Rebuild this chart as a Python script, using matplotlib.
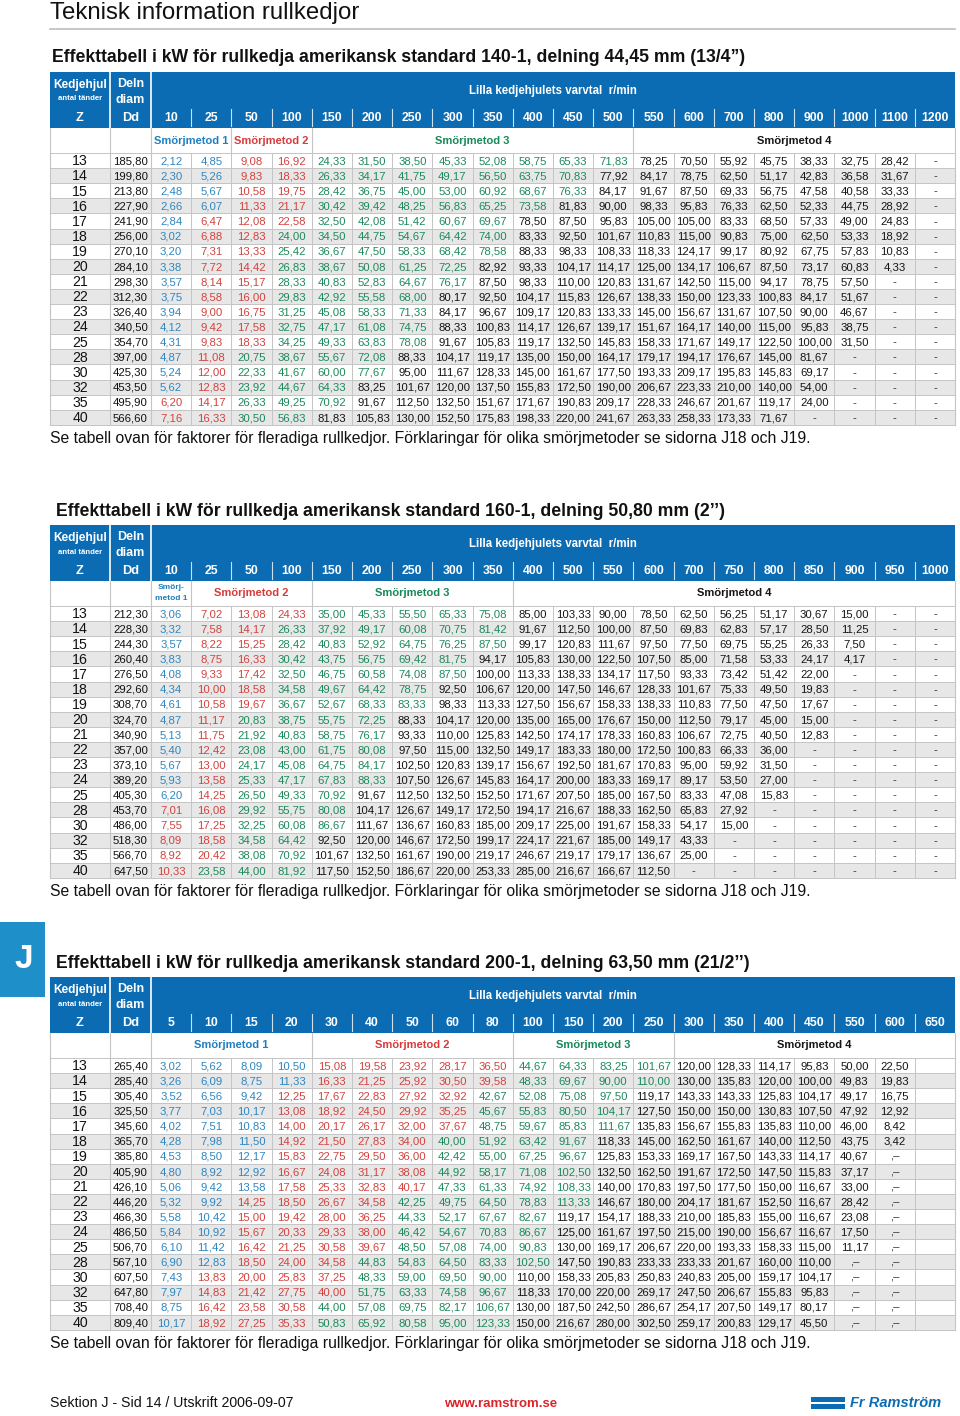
import matplotlib
matplotlib.use('Agg')
import matplotlib.pyplot as plt
from matplotlib.patches import Rectangle
from matplotlib import font_manager

plt.rcParams['font.family'] = ['Liberation Sans', 'DejaVu Sans']

_names = {f.name for f in font_manager.fontManager.ttflist}
NARROW = ['Liberation Sans Narrow', 'Liberation Sans'] if 'Liberation Sans Narrow' in _names else ['Liberation Sans']

# ---------------- DATA ----------------
PAGE_TITLE = "Teknisk information rullkedjor"
FOOTNOTE = ("Se tabell ovan för faktorer för fleradiga rullkedjor. "
            "Förklaringar för olika smörjmetoder se sidorna J18 och J19.")
HEAD_RPM = "Lilla kedjehjulets varvtal  r/min"

Z = [13, 14, 15, 16, 17, 18, 19, 20, 21, 22, 23, 24, 25, 28, 30, 32, 35, 40]

# ---- Table 1 : 140-1 ----
T1_TITLE = "Effekttabell i kW för rullkedja amerikansk standard 140-1, delning 44,45 mm (13/4”)"
T1_COLS = [10, 25, 50, 100, 150, 200, 250, 300, 350, 400, 450, 500, 550, 600, 700, 800, 900, 1000, 1100, 1200]
T1_DD = [185.80, 199.80, 213.80, 227.90, 241.90, 256.00, 270.10, 284.10, 298.30, 312.30,
         326.40, 340.50, 354.70, 397.00, 425.30, 453.50, 495.90, 566.60]
T1_ROWS = [
    [2.12, 4.85, 9.08, 16.92, 24.33, 31.50, 38.50, 45.33, 52.08, 58.75, 65.33, 71.83, 78.25, 70.50, 55.92, 45.75, 38.33, 32.75, 28.42, None],
    [2.30, 5.26, 9.83, 18.33, 26.33, 34.17, 41.75, 49.17, 56.50, 63.75, 70.83, 77.92, 84.17, 78.75, 62.50, 51.17, 42.83, 36.58, 31.67, None],
    [2.48, 5.67, 10.58, 19.75, 28.42, 36.75, 45.00, 53.00, 60.92, 68.67, 76.33, 84.17, 91.67, 87.50, 69.33, 56.75, 47.58, 40.58, 33.33, None],
    [2.66, 6.07, 11.33, 21.17, 30.42, 39.42, 48.25, 56.83, 65.25, 73.58, 81.83, 90.00, 98.33, 95.83, 76.33, 62.50, 52.33, 44.75, 28.92, None],
    [2.84, 6.47, 12.08, 22.58, 32.50, 42.08, 51.42, 60.67, 69.67, 78.50, 87.50, 95.83, 105.00, 105.00, 83.33, 68.50, 57.33, 49.00, 24.83, None],
    [3.02, 6.88, 12.83, 24.00, 34.50, 44.75, 54.67, 64.42, 74.00, 83.33, 92.50, 101.67, 110.83, 115.00, 90.83, 75.00, 62.50, 53.33, 18.92, None],
    [3.20, 7.31, 13.33, 25.42, 36.67, 47.50, 58.33, 68.42, 78.58, 88.33, 98.33, 108.33, 118.33, 124.17, 99.17, 80.92, 67.75, 57.83, 10.83, None],
    [3.38, 7.72, 14.42, 26.83, 38.67, 50.08, 61.25, 72.25, 82.92, 93.33, 104.17, 114.17, 125.00, 134.17, 106.67, 87.50, 73.17, 60.83, 4.33, None],
    [3.57, 8.14, 15.17, 28.33, 40.83, 52.83, 64.67, 76.17, 87.50, 98.33, 110.00, 120.83, 131.67, 142.50, 115.00, 94.17, 78.75, 57.50, None, None],
    [3.75, 8.58, 16.00, 29.83, 42.92, 55.58, 68.00, 80.17, 92.50, 104.17, 115.83, 126.67, 138.33, 150.00, 123.33, 100.83, 84.17, 51.67, None, None],
    [3.94, 9.00, 16.75, 31.25, 45.08, 58.33, 71.33, 84.17, 96.67, 109.17, 120.83, 133.33, 145.00, 156.67, 131.67, 107.50, 90.00, 46.67, None, None],
    [4.12, 9.42, 17.58, 32.75, 47.17, 61.08, 74.75, 88.33, 100.83, 114.17, 126.67, 139.17, 151.67, 164.17, 140.00, 115.00, 95.83, 38.75, None, None],
    [4.31, 9.83, 18.33, 34.25, 49.33, 63.83, 78.08, 91.67, 105.83, 119.17, 132.50, 145.83, 158.33, 171.67, 149.17, 122.50, 100.00, 31.50, None, None],
    [4.87, 11.08, 20.75, 38.67, 55.67, 72.08, 88.33, 104.17, 119.17, 135.00, 150.00, 164.17, 179.17, 194.17, 176.67, 145.00, 81.67, None, None, None],
    [5.24, 12.00, 22.33, 41.67, 60.00, 77.67, 95.00, 111.67, 128.33, 145.00, 161.67, 177.50, 193.33, 209.17, 195.83, 145.83, 69.17, None, None, None],
    [5.62, 12.83, 23.92, 44.67, 64.33, 83.25, 101.67, 120.00, 137.50, 155.83, 172.50, 190.00, 206.67, 223.33, 210.00, 140.00, 54.00, None, None, None],
    [6.20, 14.17, 26.33, 49.25, 70.92, 91.67, 112.50, 132.50, 151.67, 171.67, 190.83, 209.17, 228.33, 246.67, 201.67, 119.17, 24.00, None, None, None],
    [7.16, 16.33, 30.50, 56.83, 81.83, 105.83, 130.00, 152.50, 175.83, 198.33, 220.00, 241.67, 263.33, 258.33, 173.33, 71.67, None, None, None, None],
]
# number of cells per row drawn in lubrication method 1 / 2 / 3 colour (rest method 4)
T1_M1 = [2, 2, 2, 2, 1, 1, 1, 1, 1, 1, 1, 1, 1, 1, 1, 1, 0, 0]
T1_M2 = [2, 2, 2, 2, 3, 2, 2, 2, 2, 2, 2, 2, 2, 1, 1, 1, 2, 2]
T1_M3 = [8, 7, 7, 6, 5, 6, 6, 5, 5, 4, 4, 4, 4, 4, 4, 3, 3, 2]
# method label spans (first col, last col)
T1_SPANS = [(0, 1), (2, 3), (4, 11), (12, 19)]

# ---- Table 2 : 160-1 ----
T2_TITLE = "Effekttabell i kW för rullkedja amerikansk standard 160-1, delning 50,80 mm (2’’)"
T2_COLS = [10, 25, 50, 100, 150, 200, 250, 300, 350, 400, 500, 550, 600, 700, 750, 800, 850, 900, 950, 1000]
T2_DD = [212.30, 228.30, 244.30, 260.40, 276.50, 292.60, 308.70, 324.70, 340.90, 357.00,
         373.10, 389.20, 405.30, 453.70, 486.00, 518.30, 566.70, 647.50]
T2_ROWS = [
    [3.06, 7.02, 13.08, 24.33, 35.00, 45.33, 55.50, 65.33, 75.08, 85.00, 103.33, 90.00, 78.50, 62.50, 56.25, 51.17, 30.67, 15.00, None, None],
    [3.32, 7.58, 14.17, 26.33, 37.92, 49.17, 60.08, 70.75, 81.42, 91.67, 112.50, 100.00, 87.50, 69.83, 62.83, 57.17, 28.50, 11.25, None, None],
    [3.57, 8.22, 15.25, 28.42, 40.83, 52.92, 64.75, 76.25, 87.50, 99.17, 120.83, 111.67, 97.50, 77.50, 69.75, 55.25, 26.33, 7.50, None, None],
    [3.83, 8.75, 16.33, 30.42, 43.75, 56.75, 69.42, 81.75, 94.17, 105.83, 130.00, 122.50, 107.50, 85.00, 71.58, 53.33, 24.17, 4.17, None, None],
    [4.08, 9.33, 17.42, 32.50, 46.75, 60.58, 74.08, 87.50, 100.00, 113.33, 138.33, 134.17, 117.50, 93.33, 73.42, 51.42, 22.00, None, None, None],
    [4.34, 10.00, 18.58, 34.58, 49.67, 64.42, 78.75, 92.50, 106.67, 120.00, 147.50, 146.67, 128.33, 101.67, 75.33, 49.50, 19.83, None, None, None],
    [4.61, 10.58, 19.67, 36.67, 52.67, 68.33, 83.33, 98.33, 113.33, 127.50, 156.67, 158.33, 138.33, 110.83, 77.50, 47.50, 17.67, None, None, None],
    [4.87, 11.17, 20.83, 38.75, 55.75, 72.25, 88.33, 104.17, 120.00, 135.00, 165.00, 176.67, 150.00, 112.50, 79.17, 45.00, 15.00, None, None, None],
    [5.13, 11.75, 21.92, 40.83, 58.75, 76.17, 93.33, 110.00, 125.83, 142.50, 174.17, 178.33, 160.83, 106.67, 72.75, 40.50, 12.83, None, None, None],
    [5.40, 12.42, 23.08, 43.00, 61.75, 80.08, 97.50, 115.00, 132.50, 149.17, 183.33, 180.00, 172.50, 100.83, 66.33, 36.00, None, None, None, None],
    [5.67, 13.00, 24.17, 45.08, 64.75, 84.17, 102.50, 120.83, 139.17, 156.67, 192.50, 181.67, 170.83, 95.00, 59.92, 31.50, None, None, None, None],
    [5.93, 13.58, 25.33, 47.17, 67.83, 88.33, 107.50, 126.67, 145.83, 164.17, 200.00, 183.33, 169.17, 89.17, 53.50, 27.00, None, None, None, None],
    [6.20, 14.25, 26.50, 49.33, 70.92, 91.67, 112.50, 132.50, 152.50, 171.67, 207.50, 185.00, 167.50, 83.33, 47.08, 15.83, None, None, None, None],
    [7.01, 16.08, 29.92, 55.75, 80.08, 104.17, 126.67, 149.17, 172.50, 194.17, 216.67, 188.33, 162.50, 65.83, 27.92, None, None, None, None, None],
    [7.55, 17.25, 32.25, 60.08, 86.67, 111.67, 136.67, 160.83, 185.00, 209.17, 225.00, 191.67, 158.33, 54.17, 15.00, None, None, None, None, None],
    [8.09, 18.58, 34.58, 64.42, 92.50, 120.00, 146.67, 172.50, 199.17, 224.17, 221.67, 185.00, 149.17, 43.33, None, None, None, None, None, None],
    [8.92, 20.42, 38.08, 70.92, 101.67, 132.50, 161.67, 190.00, 219.17, 246.67, 219.17, 179.17, 136.67, 25.00, None, None, None, None, None, None],
    [10.33, 23.58, 44.00, 81.92, 117.50, 152.50, 186.67, 220.00, 253.33, 285.00, 216.67, 166.67, 112.50, None, None, None, None, None, None, None],
]
T2_M1 = [1, 1, 1, 1, 1, 1, 1, 1, 1, 1, 1, 1, 1, 0, 0, 0, 0, 0]
T2_M2 = [3, 2, 2, 2, 2, 2, 2, 1, 1, 1, 1, 1, 1, 2, 2, 2, 2, 1]
T2_M3 = [5, 6, 6, 5, 5, 4, 4, 4, 4, 4, 4, 4, 3, 3, 3, 2, 2, 3]
T2_SPANS = [(0, 0), (1, 3), (4, 8), (9, 19)]

# ---- Table 3 : 200-1 ----
T3_TITLE = "Effekttabell i kW för rullkedja amerikansk standard 200-1, delning 63,50 mm (21/2’’)"
T3_COLS = [5, 10, 15, 20, 30, 40, 50, 60, 80, 100, 150, 200, 250, 300, 350, 400, 450, 550, 600, 650]
T3_DD = [265.40, 285.40, 305.40, 325.50, 345.60, 365.70, 385.80, 405.90, 426.10, 446.20,
         466.30, 486.50, 506.70, 567.10, 607.50, 647.80, 708.40, 809.40]
T3_ROWS = [
    [3.02, 5.62, 8.09, 10.50, 15.08, 19.58, 23.92, 28.17, 36.50, 44.67, 64.33, 83.25, 101.67, 120.00, 128.33, 114.17, 95.83, 50.00, 22.50],
    [3.26, 6.09, 8.75, 11.33, 16.33, 21.25, 25.92, 30.50, 39.58, 48.33, 69.67, 90.00, 110.00, 130.00, 135.83, 120.00, 100.00, 49.83, 19.83],
    [3.52, 6.56, 9.42, 12.25, 17.67, 22.83, 27.92, 32.92, 42.67, 52.08, 75.08, 97.50, 119.17, 143.33, 143.33, 125.83, 104.17, 49.17, 16.75],
    [3.77, 7.03, 10.17, 13.08, 18.92, 24.50, 29.92, 35.25, 45.67, 55.83, 80.50, 104.17, 127.50, 150.00, 150.00, 130.83, 107.50, 47.92, 12.92],
    [4.02, 7.51, 10.83, 14.00, 20.17, 26.17, 32.00, 37.67, 48.75, 59.67, 85.83, 111.67, 135.83, 156.67, 155.83, 135.83, 110.00, 46.00, 8.42],
    [4.28, 7.98, 11.50, 14.92, 21.50, 27.83, 34.00, 40.00, 51.92, 63.42, 91.67, 118.33, 145.00, 162.50, 161.67, 140.00, 112.50, 43.75, 3.42],
    [4.53, 8.50, 12.17, 15.83, 22.75, 29.50, 36.00, 42.42, 55.00, 67.25, 96.67, 125.83, 153.33, 169.17, 167.50, 143.33, 114.17, 40.67, None],
    [4.80, 8.92, 12.92, 16.67, 24.08, 31.17, 38.08, 44.92, 58.17, 71.08, 102.50, 132.50, 162.50, 191.67, 172.50, 147.50, 115.83, 37.17, None],
    [5.06, 9.42, 13.58, 17.58, 25.33, 32.83, 40.17, 47.33, 61.33, 74.92, 108.33, 140.00, 170.83, 197.50, 177.50, 150.00, 116.67, 33.00, None],
    [5.32, 9.92, 14.25, 18.50, 26.67, 34.58, 42.25, 49.75, 64.50, 78.83, 113.33, 146.67, 180.00, 204.17, 181.67, 152.50, 116.67, 28.42, None],
    [5.58, 10.42, 15.00, 19.42, 28.00, 36.25, 44.33, 52.17, 67.67, 82.67, 119.17, 154.17, 188.33, 210.00, 185.83, 155.00, 116.67, 23.08, None],
    [5.84, 10.92, 15.67, 20.33, 29.33, 38.00, 46.42, 54.67, 70.83, 86.67, 125.00, 161.67, 197.50, 215.00, 190.00, 156.67, 116.67, 17.50, None],
    [6.10, 11.42, 16.42, 21.25, 30.58, 39.67, 48.50, 57.08, 74.00, 90.83, 130.00, 169.17, 206.67, 220.00, 193.33, 158.33, 115.00, 11.17, None],
    [6.90, 12.83, 18.50, 24.00, 34.58, 44.83, 54.83, 64.50, 83.33, 102.50, 147.50, 190.83, 233.33, 233.33, 201.67, 160.00, 110.00, None, None],
    [7.43, 13.83, 20.00, 25.83, 37.25, 48.33, 59.00, 69.50, 90.00, 110.00, 158.33, 205.83, 250.83, 240.83, 205.00, 159.17, 104.17, None, None],
    [7.97, 14.83, 21.42, 27.75, 40.00, 51.75, 63.33, 74.58, 96.67, 118.33, 170.00, 220.00, 269.17, 247.50, 206.67, 155.83, 95.83, None, None],
    [8.75, 16.42, 23.58, 30.58, 44.00, 57.08, 69.75, 82.17, 106.67, 130.00, 187.50, 242.50, 286.67, 254.17, 207.50, 149.17, 80.17, None, None],
    [10.17, 18.92, 27.25, 35.33, 50.83, 65.92, 80.58, 95.00, 123.33, 150.00, 216.67, 280.00, 302.50, 259.17, 200.83, 129.17, 45.50, None, None],
]
T3_M1 = [4, 4, 3, 3, 3, 3, 3, 3, 3, 2, 2, 2, 2, 2, 1, 1, 1, 1]
T3_M2 = [5, 5, 5, 5, 5, 4, 4, 4, 4, 4, 4, 4, 4, 3, 4, 4, 3, 3]
T3_M3 = [4, 4, 4, 4, 4, 4, 4, 4, 4, 5, 4, 4, 4, 5, 4, 4, 5, 5]
T3_SPANS = [(0, 3), (4, 8), (9, 12), (13, 19)]

METHOD_LABELS = ["Smörjmetod 1", "Smörjmetod 2", "Smörjmetod 3", "Smörjmetod 4"]

# ---------------- STYLE ----------------
HEAD_BLUE = "#0b6cb4"
TAB_BLUE = "#1f8fca"
TXT_COLORS = ["#2f86c0", "#d2433f", "#1d8a5c", "#151515"]
LBL_COLORS = ["#1f7ec0", "#d63b3b", "#17885a", "#151515"]
GRID = "#c4c4c4"
STRIPE = "#e7e7e7"

W, H = 960, 1416
fig = plt.figure(figsize=(W / 100, H / 100), dpi=100)
ax = fig.add_axes([0, 0, 1, 1])
ax.set_xlim(0, W)
ax.set_ylim(H, 0)
ax.axis('off')

X0, XZ, XD, X1 = 50, 110, 151, 955
HEAD_H, METH_H, RH = 56, 25, 15.1
DATA_FS = 9.0 if len(NARROW) > 1 else 8.2


def fmt(v):
    return f"{v:.2f}".replace('.', ',')


def draw_table(T, title, title_x, cols, dd, rows, m1, m2, m3, spans, dash, small_m1=False):
    ncol = len(cols)
    cw = (X1 - XD) / ncol
    ax.text(title_x, T - 14, title, fontsize=12.7, fontweight='bold', va='center', ha='left', color='#111111')
    # header block
    ax.add_patch(Rectangle((X0, T), X1 - X0, HEAD_H, facecolor=HEAD_BLUE, lw=0, zorder=1))
    for xx in (XZ, XD):
        ax.plot([xx, xx], [T, T + HEAD_H], color='white', lw=1.2, zorder=2)
    for k in range(1, ncol):
        xx = XD + k * cw
        ax.plot([xx, xx], [T + 37, T + 54], color='white', lw=0.8, alpha=0.8, zorder=2)
    ax.text((X0 + XZ) / 2, T + 13, "Kedjehjul", color='white', fontsize=8.6, fontweight='bold', ha='center', va='center')
    ax.text((X0 + XZ) / 2, T + 27, "antal tänder", color='white', fontsize=5.6, fontweight='bold', ha='center', va='center')
    ax.text((XZ + XD) / 2, T + 12, "Deln", color='white', fontsize=9.0, fontweight='bold', ha='center', va='center')
    ax.text((XZ + XD) / 2, T + 28, "diam", color='white', fontsize=9.0, fontweight='bold', ha='center', va='center')
    ax.text((X0 + XZ) / 2, T + 46, "Z", color='white', fontsize=9.2, fontweight='bold', ha='center', va='center')
    ax.text((XZ + XD) / 2, T + 46, "Dd", color='white', fontsize=9.2, fontweight='bold', ha='center', va='center')
    ax.text((XD + X1) / 2, T + 19, HEAD_RPM, color='white', fontsize=8.3, fontweight='bold', ha='center', va='center')
    for k, c in enumerate(cols):
        ax.text(XD + (k + 0.5) * cw, T + 46, str(c), color='white', fontsize=8.8, fontweight='bold',
                ha='center', va='center')
    # method row
    my = T + HEAD_H
    for m, (a, b) in enumerate(spans):
        cx = XD + (a + b + 1) / 2 * cw
        if small_m1 and m == 0:
            ax.text(cx, my + 6.5, "Smörj-", color=LBL_COLORS[0], fontsize=6.0, fontweight='bold', ha='center', va='center')
            ax.text(cx, my + 18, "metod 1", color=LBL_COLORS[0], fontsize=6.0, fontweight='bold', ha='center', va='center')
        else:
            ax.text(cx, my + METH_H / 2, METHOD_LABELS[m], color=LBL_COLORS[m], fontsize=8.0,
                    fontweight='bold', ha='center', va='center')
        if m > 0:
            xx = XD + a * cw
            ax.plot([xx, xx], [my, my + METH_H], color=GRID, lw=0.8)
    ytop = my + METH_H
    nrow = len(rows)
    ybot = ytop + nrow * RH
    # stripes
    for i in range(nrow):
        if i % 2 == 1:
            ax.add_patch(Rectangle((X0, ytop + i * RH), X1 - X0, RH, facecolor=STRIPE, lw=0, zorder=0))
    # grid
    for xx in [X0, XZ, XD, X1]:
        ax.plot([xx, xx], [my, ybot], color=GRID, lw=0.8)
    for k in range(1, ncol):
        xx = XD + k * cw
        ax.plot([xx, xx], [ytop, ybot], color=GRID, lw=0.7)
    for i in range(nrow + 1):
        yy = ytop + i * RH
        ax.plot([X0, X1], [yy, yy], color=GRID, lw=0.7)
    # data
    for i in range(nrow):
        yc = ytop + (i + 0.55) * RH
        ax.text((X0 + XZ) / 2, yc, str(Z[i]), fontsize=10.2, ha='center', va='center', color='#111111',
                family=NARROW)
        ax.text((XZ + XD) / 2, yc, fmt(dd[i]), fontsize=DATA_FS, ha='center', va='center', color='#111111',
                family=NARROW)
        b1 = m1[i]
        b2 = b1 + m2[i]
        b3 = b2 + m3[i]
        for j, v in enumerate(rows[i]):
            if v is None:
                s, col = dash, '#333333'
            else:
                s = fmt(v)
                col = TXT_COLORS[0] if j < b1 else TXT_COLORS[1] if j < b2 else TXT_COLORS[2] if j < b3 else TXT_COLORS[3]
            ax.text(XD + (j + 0.5) * cw, yc, s, fontsize=DATA_FS, ha='center', va='center', color=col,
                    family=NARROW)
    ax.text(X0, ybot + 14, FOOTNOTE, fontsize=11.3, ha='left', va='center', color='#111111')


# page header
ax.text(X0, 13, PAGE_TITLE, fontsize=17.3, ha='left', va='center', color='#111111')
ax.plot([X0, X1], [29, 29], color='#bdbdbd', lw=1.2)

draw_table(72, T1_TITLE, 52, T1_COLS, T1_DD, T1_ROWS, T1_M1, T1_M2, T1_M3, T1_SPANS, '-')
draw_table(525, T2_TITLE, 56, T2_COLS, T2_DD, T2_ROWS, T2_M1, T2_M2, T2_M3, T2_SPANS, '-', small_m1=True)
draw_table(977, T3_TITLE, 56, T3_COLS, T3_DD, T3_ROWS, T3_M1, T3_M2, T3_M3, T3_SPANS, ',–')

# side tab "J"
ax.add_patch(Rectangle((0, 922), 45, 75, facecolor=TAB_BLUE, lw=0))
ax.text(24, 959, "J", color='white', fontsize=24, fontweight='bold', ha='center', va='center')

# page footer
ax.text(X0, 1403, "Sektion J - Sid 14 / Utskrift 2006-09-07", fontsize=10.2, ha='left', va='center', color='#111111')
ax.text(501, 1404, "www.ramstrom.se", fontsize=9.5, fontweight='bold', ha='center', va='center', color='#d8262b')
ax.add_patch(Rectangle((811, 1397), 34, 5, facecolor=HEAD_BLUE, lw=0))
ax.add_patch(Rectangle((811, 1404), 34, 5, facecolor=HEAD_BLUE, lw=0))
ax.text(850, 1403, "Fr Ramström", fontsize=10.5, fontweight='bold', style='italic', ha='left', va='center', color=HEAD_BLUE)

fig.savefig("out.png", dpi=100)
